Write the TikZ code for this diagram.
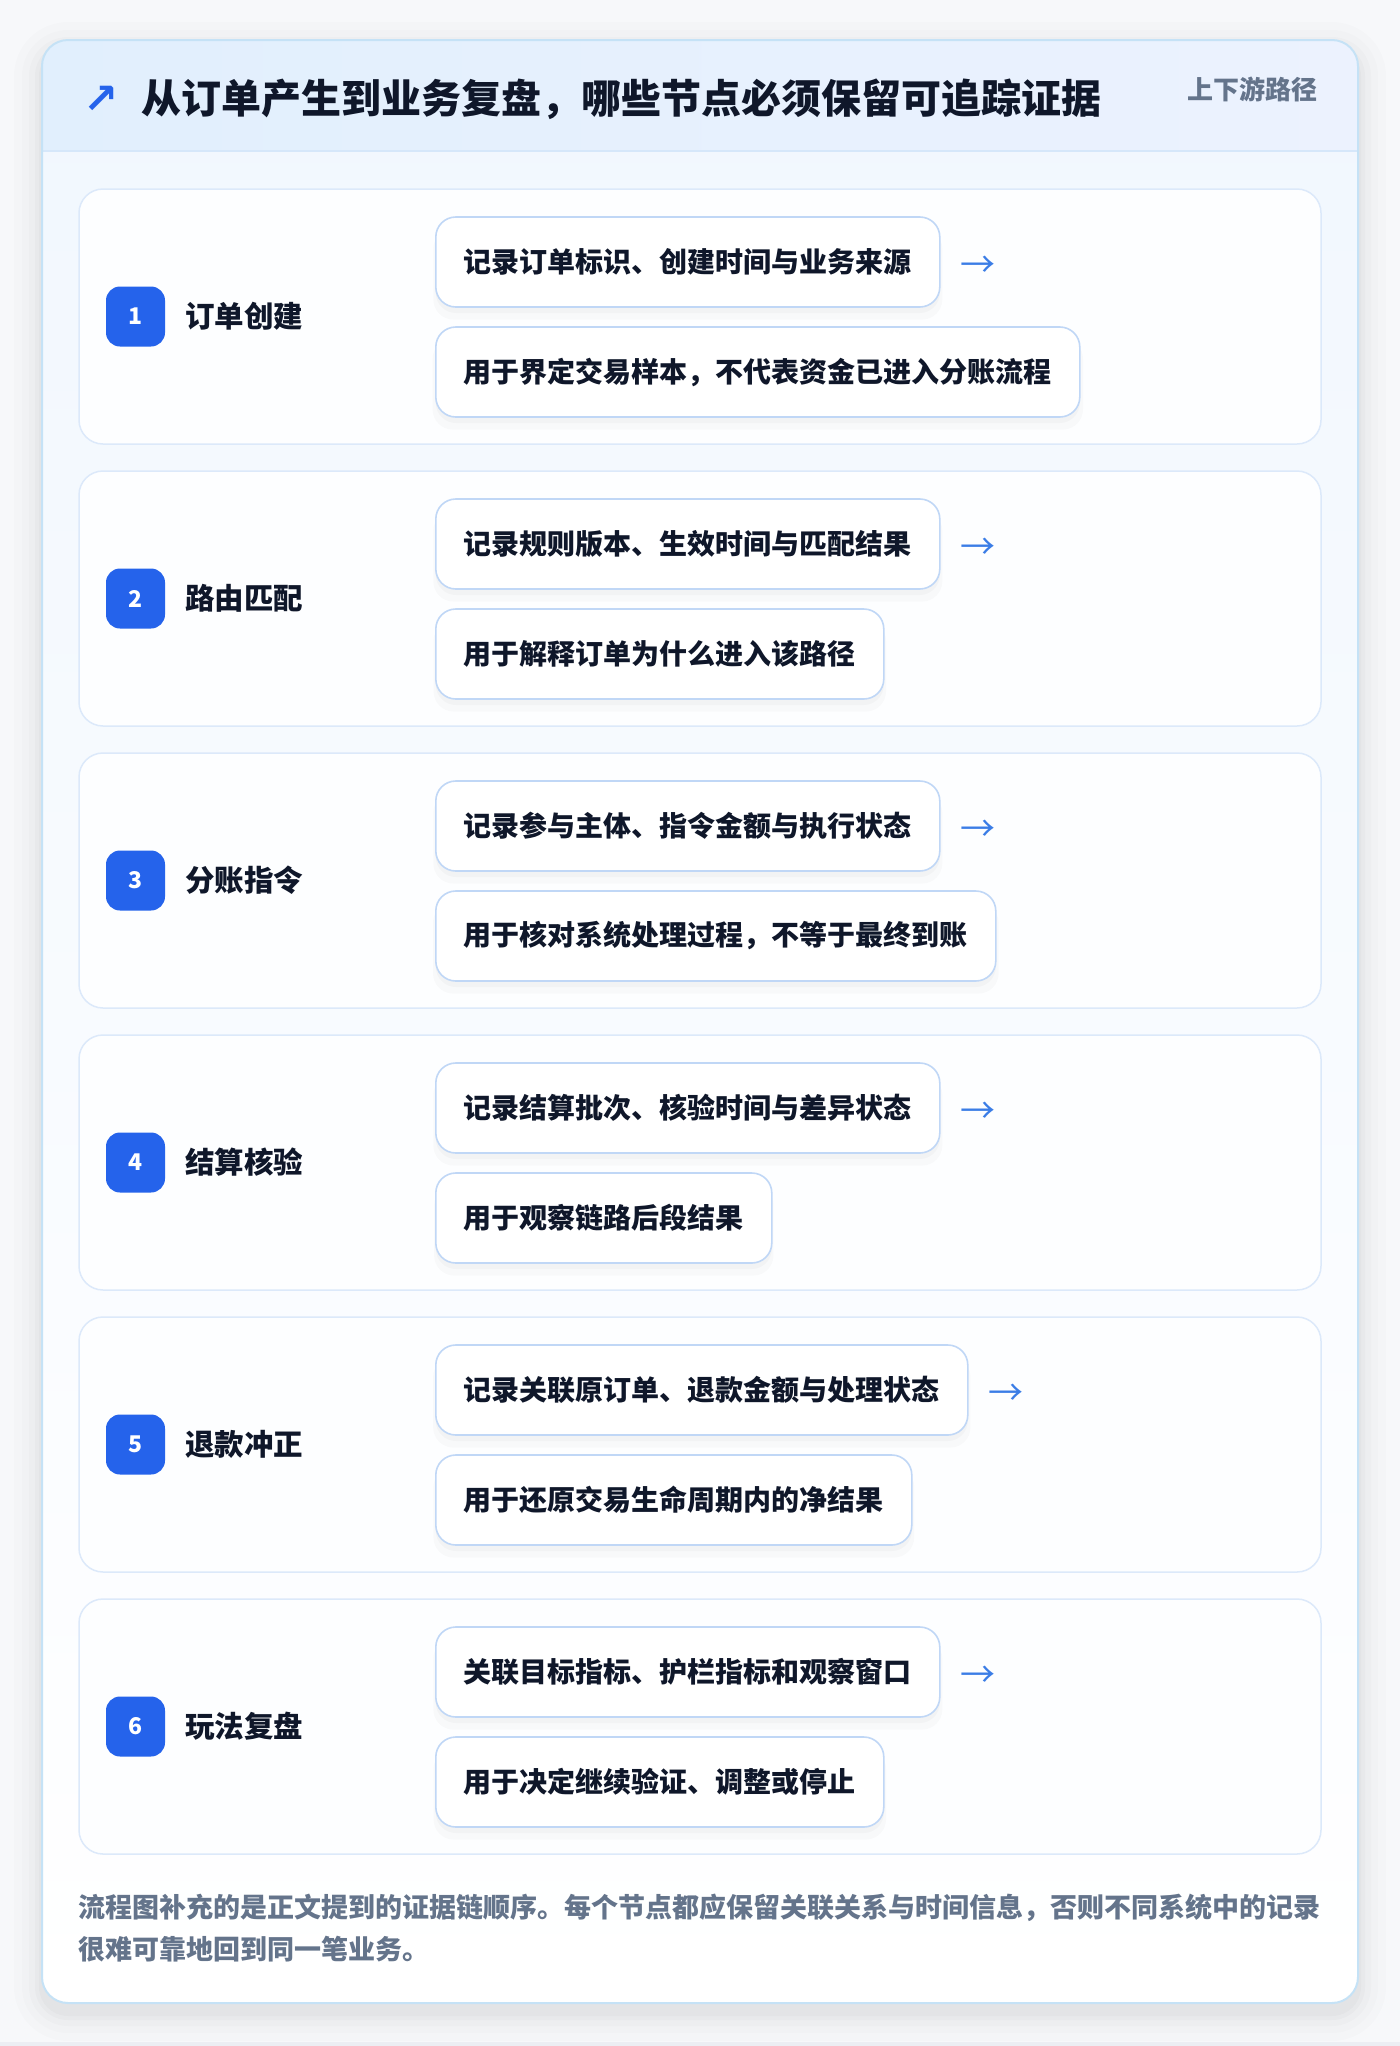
\documentclass[tikz,border=0pt]{standalone}
\usepackage{fontspec}
\setmainfont{Noto Sans CJK SC}
\newfontfamily\djv{DejaVu Sans}
\usetikzlibrary{shadows}
\definecolor{pagebg}{HTML}{F7F8FA}
\definecolor{stripc}{HTML}{ECEEF3}
\definecolor{cardline}{HTML}{C5E2F6}
\definecolor{headA}{HTML}{E1EFFD}
\definecolor{headB}{HTML}{ECF2FE}
\definecolor{headline}{HTML}{D6E7FA}
\definecolor{cardtop}{HTML}{F1F7FE}
\definecolor{panelline}{HTML}{DCE9FA}
\definecolor{panelfill}{HTML}{FDFEFF}
\definecolor{boxline}{HTML}{C0D7F6}
\definecolor{ink}{HTML}{0F172A}
\definecolor{badgec}{HTML}{2563EB}
\definecolor{arrowc}{HTML}{3B7DE6}
\definecolor{muted}{HTML}{64748B}
\tikzset{
  panelbox/.style={draw=panelline, line width=1.5pt, fill=panelfill, rounded corners=24pt},
  textbox/.style={draw=boxline, line width=1.6pt, fill=white, rounded corners=20pt,
    minimum height=90pt, inner xsep=28pt, inner ysep=0pt, anchor=west, text=ink,
    font=\bfseries\fontsize{28}{34}\selectfont,
    general shadow={fill=black, opacity=0.02, shadow yshift=-12pt, shadow scale=1.01},
    general shadow={fill=black, opacity=0.025, shadow yshift=-6pt}},
  badgebox/.style={fill=badgec, rounded corners=14pt, minimum width=59pt, minimum height=60pt,
    text=white, inner sep=0pt, font=\bfseries\fontsize{23}{26}\selectfont},
  steplabel/.style={anchor=west, text=ink, inner sep=0pt, font=\bfseries\fontsize{29.5}{34}\selectfont},
  flowarrow/.style={anchor=west, text=arrowc, inner sep=0pt, font=\fontsize{35}{36}\selectfont},
  footnote/.style={anchor=west, text=muted, inner sep=0pt, font=\bfseries\fontsize{27}{32}\selectfont}
}
\begin{document}
\begin{tikzpicture}[x=1pt,y=-1pt]
\useasboundingbox (0,0) rectangle (1400,2046);
\fill[pagebg] (0,0) rectangle (1400,2046);
\fill[stripc] (0,2042) rectangle (1400,2046);
% card shadow
\foreach \d/\o in {28/0.010,20/0.012,13/0.015,7/0.018,3/0.02}{
  \fill[black, opacity=\o, rounded corners=26pt+\d pt] (42-\d,40-\d+10) rectangle (1358+\d,2003+\d+10);
}
% card
\fill[top color=cardtop, bottom color=white, rounded corners=26pt] (42,40) rectangle (1358,2003);
\begin{scope}
  \clip[rounded corners=26pt] (42,40) rectangle (1358,2003);
  \fill[left color=headA, right color=headB] (42,40) rectangle (1358,151);
  \draw[headline, line width=2pt] (42,151) -- (1358,151);
\end{scope}
\draw[cardline, line width=2pt, rounded corners=26pt] (42,40) rectangle (1358,2003);
% header
\node[text=badgec, inner sep=0pt, font=\djv\bfseries\fontsize{42}{44}\selectfont] (hdarrow) at (101.5,100) {↗};
\node[anchor=west, text=ink, inner sep=0pt, font=\bfseries\fontsize{40}{46}\selectfont] (title) at (141,99)
  {从订单产生到业务复盘，哪些节点必须保留可追踪证据};
\node[anchor=east, text=muted, inner sep=0pt, font=\bfseries\fontsize{26}{30}\selectfont] (tag) at (1318,89) {上下游路径};
% steps
\foreach \i/\lab/\ta/\tb in {
  1/订单创建/记录订单标识、创建时间与业务来源/用于界定交易样本，不代表资金已进入分账流程,
  2/路由匹配/记录规则版本、生效时间与匹配结果/用于解释订单为什么进入该路径,
  3/分账指令/记录参与主体、指令金额与执行状态/用于核对系统处理过程，不等于最终到账,
  4/结算核验/记录结算批次、核验时间与差异状态/用于观察链路后段结果,
  5/退款冲正/记录关联原订单、退款金额与处理状态/用于还原交易生命周期内的净结果,
  6/玩法复盘/关联目标指标、护栏指标和观察窗口/用于决定继续验证、调整或停止}{
  \pgfmathsetmacro{\ty}{189+(\i-1)*282}
  \draw[panelbox] (79,\ty) rectangle (1321,\ty+255);
  \node[badgebox] (badge\i) at (135.5,\ty+127.5) {\i};
  \node[steplabel] (label\i) at (185,\ty+127.5) {\lab};
  \node[textbox] (top\i) at (435,\ty+73) {\ta};
  \node[textbox] (bot\i) at (435,\ty+183) {\tb};
  \node[flowarrow] (arr\i) at ([xshift=20pt,yshift=-5pt]top\i.east) {→};
}
% footer
\node[footnote] (foot1) at (78,1908) {流程图补充的是正文提到的证据链顺序。每个节点都应保留关联关系与时间信息，否则不同系统中的记录};
\node[footnote] (foot2) at (78,1949) {很难可靠地回到同一笔业务。};
\end{tikzpicture}
\end{document}
